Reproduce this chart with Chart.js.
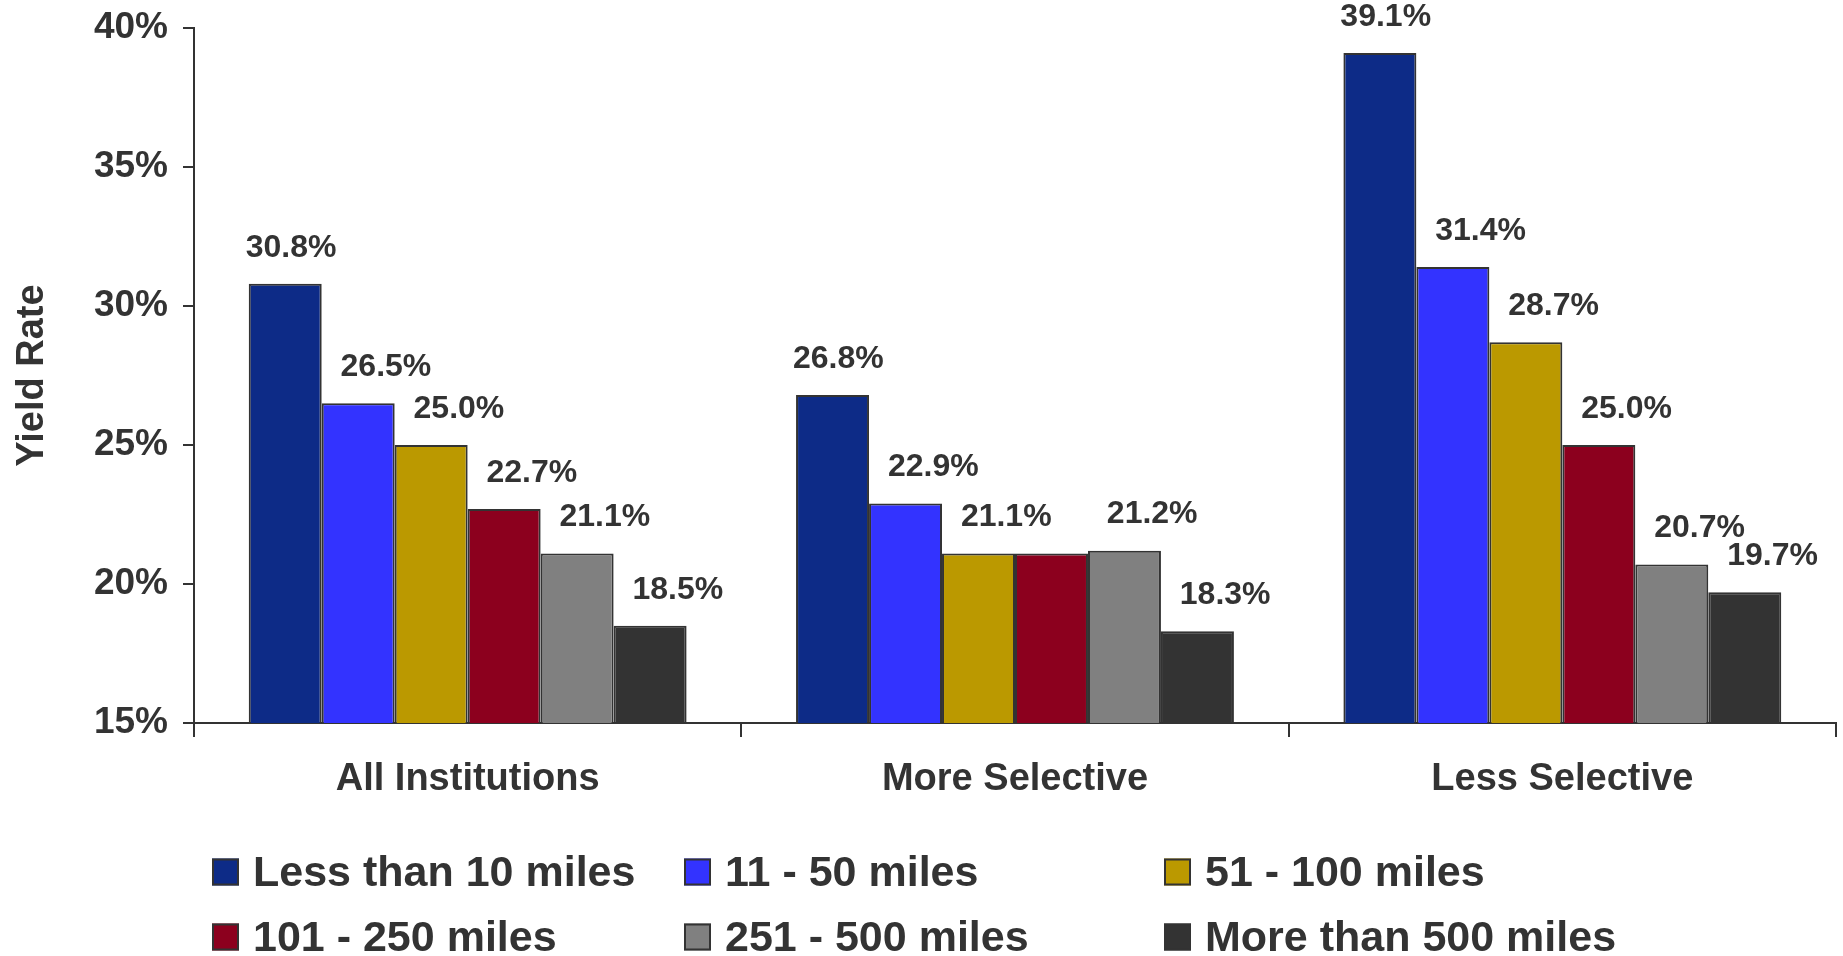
<!DOCTYPE html>
<html>
<head>
<meta charset="utf-8">
<title>Yield Rate by Distance from Home</title>
<script src="https://cdn.jsdelivr.net/npm/chart.js@4/dist/chart.umd.min.js"></script>
<style>
  html, body { margin: 0; padding: 0; background: #ffffff; }
  #wrap { width: 1843px; height: 956px; position: relative; }
</style>
</head>
<body>
<div id="wrap"><canvas id="chart"></canvas></div>
<script>
// Institution groups along the x axis
const categories = ['All Institutions', 'More Selective', 'Less Selective'];

// Distance bands (one series each)
const seriesNames = [
  'Less than 10 miles',
  '11 - 50 miles',
  '51 - 100 miles',
  '101 - 250 miles',
  '251 - 500 miles',
  'More than 500 miles'
];

// Yield rate (%) per distance band, in category order
const lessThan10   = [30.8, 26.8, 39.1];
const miles11to50  = [26.5, 22.9, 31.4];
const miles51to100 = [25.0, 21.1, 28.7];
const miles101to250 = [22.7, 21.1, 25.0];
const miles251to500 = [21.1, 21.2, 20.7];
const moreThan500  = [18.5, 18.3, 19.7];

// Y axis range and step (%)
const yMin = 15;
const yMax = 40;
const yStep = 5;

const seriesValues = [lessThan10, miles11to50, miles51to100, miles101to250, miles251to500, moreThan500];
const seriesColors = ['#0D2B87', '#3333FF', '#BB9900', '#8C001E', '#808080', '#333333'];

const FONT = '"Liberation Sans", Arial, Helvetica, sans-serif';
const INK = '#333333';

// Value labels above each bar; a label that would collide with one already drawn is dropped
const valueLabels = {
  id: 'valueLabels',
  afterDatasetsDraw(chart) {
    const ctx = chart.ctx;
    const size = 32;
    ctx.save();
    ctx.font = 'bold ' + size + 'px ' + FONT;
    ctx.fillStyle = INK;
    ctx.textAlign = 'center';
    ctx.textBaseline = 'middle';
    const placed = [];
    const nCat = chart.data.labels.length;
    for (let c = 0; c < nCat; c++) {
      chart.data.datasets.forEach((ds, di) => {
        const bar = chart.getDatasetMeta(di).data[c];
        if (!bar) return;
        const text = ds.data[c].toFixed(1) + '%';
        const w = ctx.measureText(text).width;
        const shift = di === 0 ? 0.08 : 0.38;
        const x = bar.x + bar.width * shift;
        const y = bar.y - 36;
        const box = { l: x - w / 2, r: x + w / 2, t: y - size * 0.38, b: y + size * 0.38 };
        const hit = placed.some(p => box.l < p.r && box.r > p.l && box.t < p.b && box.b > p.t);
        if (hit) return;
        placed.push(box);
        ctx.fillText(text, x, y);
      });
    }
    ctx.restore();
  }
};

// Three-column legend below the axis labels
const gridLegend = {
  id: 'gridLegend',
  afterDraw(chart) {
    const ctx = chart.ctx;
    const colX = [212, 684, 1164];
    const rowY = [872, 937];
    const sw = 27;
    ctx.save();
    ctx.font = 'bold 43px ' + FONT;
    ctx.textBaseline = 'middle';
    ctx.textAlign = 'left';
    chart.data.datasets.forEach((ds, i) => {
      const x = colX[i % 3];
      const y = rowY[Math.floor(i / 3)];
      ctx.fillStyle = ds.backgroundColor;
      ctx.fillRect(x, y - sw / 2, sw, sw);
      ctx.lineWidth = 2;
      ctx.strokeStyle = INK;
      ctx.strokeRect(x + 1, y - sw / 2 + 1, sw - 2, sw - 2);
      ctx.fillStyle = INK;
      ctx.fillText(ds.label, x + 41, y + 2);
    });
    ctx.restore();
  }
};

const datasets = seriesNames.map((name, i) => ({
  label: name,
  data: seriesValues[i],
  backgroundColor: seriesColors[i],
  borderColor: INK,
  borderWidth: 2,
  categoryPercentage: 0.8,
  barPercentage: 1.0
}));

new Chart(document.getElementById('chart'), {
  type: 'bar',
  data: { labels: categories, datasets },
  options: {
    responsive: true,
    maintainAspectRatio: false,
    animation: false,
    layout: { padding: { top: 28, right: 7, left: 0, bottom: 153 } },
    plugins: {
      legend: { display: false },
      tooltip: { enabled: false },
      title: { display: false }
    },
    scales: {
      x: {
        grid: {
          display: true,
          drawOnChartArea: false,
          offset: true,
          tickLength: 14,
          color: INK,
          lineWidth: 2
        },
        border: { display: true, color: INK, width: 2 },
        ticks: {
          color: INK,
          padding: 20,
          font: { family: FONT, size: 38, weight: 'bold' }
        },
        afterFit(scale) { scale.height = 80; }
      },
      y: {
        min: yMin,
        max: yMax,
        ticks: {
          stepSize: yStep,
          color: INK,
          padding: 15,
          font: { family: FONT, size: 37, weight: 'bold' },
          callback: v => v + '%'
        },
        grid: {
          display: true,
          drawOnChartArea: false,
          tickLength: 11,
          color: INK,
          lineWidth: 2
        },
        border: { display: true, color: INK, width: 2 },
        title: {
          display: true,
          text: 'Yield Rate',
          color: INK,
          padding: { top: 10, bottom: 0 },
          font: { family: FONT, size: 38, weight: 'bold' }
        },
        afterFit(scale) {
          scale.width = 194;
          scale.paddingTop = 0;
          scale.paddingBottom = 0;
        }
      }
    }
  },
  plugins: [valueLabels, gridLegend]
});
</script>
</body>
</html>
